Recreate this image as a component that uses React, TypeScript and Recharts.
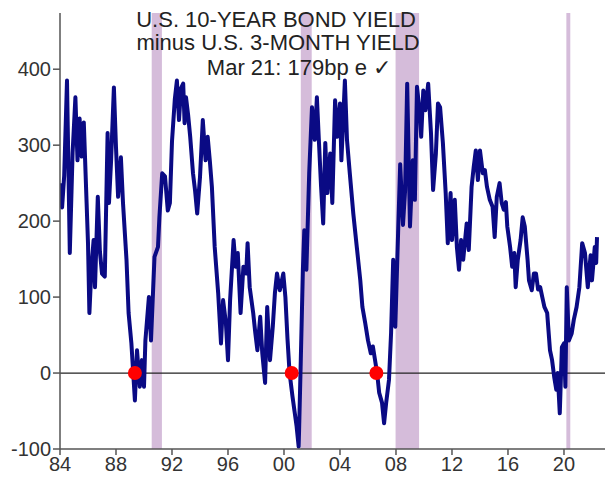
import React from 'react'
import {LineChart, Line, XAxis, YAxis, ReferenceArea, ReferenceLine, ReferenceDot} from 'recharts'

// 10y minus 3m spread, bp
const years = [
  1984.0, 1984.15, 1984.3, 1984.5, 1984.7, 1984.9, 1985.1, 1985.25, 1985.4, 1985.55, 1985.7, 1985.9,
  1986.0, 1986.1, 1986.25, 1986.4, 1986.5, 1986.7, 1986.85, 1987.0, 1987.2, 1987.4, 1987.5, 1987.65,
  1987.85, 1988.0, 1988.15, 1988.35, 1988.5, 1988.75, 1988.9, 1989.1, 1989.35, 1989.5, 1989.7, 1989.85,
  1990.0, 1990.1, 1990.35, 1990.5, 1990.75, 1991.0, 1991.1, 1991.3, 1991.5, 1991.7, 1991.85, 1992.0,
  1992.2, 1992.35, 1992.5, 1992.65, 1992.8, 1992.9, 1993.0, 1993.15, 1993.3, 1993.5, 1993.65, 1993.8,
  1994.0, 1994.2, 1994.4, 1994.55, 1994.7, 1994.85, 1995.05, 1995.3, 1995.5, 1995.65, 1995.85, 1996.0,
  1996.15, 1996.4, 1996.55, 1996.7, 1996.9, 1997.1, 1997.3, 1997.4, 1997.55, 1997.8, 1997.95, 1998.1,
  1998.3, 1998.45, 1998.65, 1998.8, 1999.0, 1999.2, 1999.35, 1999.5, 1999.7, 1999.95, 2000.1, 2000.25,
  2000.4, 2000.6, 2000.75, 2000.9, 2001.05, 2001.2, 2001.35, 2001.45, 2001.6, 2001.8, 2002.0, 2002.2,
  2002.35, 2002.5, 2002.65, 2002.8, 2002.95, 2003.1, 2003.3, 2003.45, 2003.65, 2003.8, 2004.0, 2004.1,
  2004.35, 2004.5, 2004.7, 2004.95, 2005.2, 2005.45, 2005.6, 2005.8, 2006.0, 2006.2, 2006.35, 2006.65,
  2006.8, 2007.0, 2007.15, 2007.3, 2007.5, 2007.65, 2007.8, 2007.95, 2008.15, 2008.3, 2008.5, 2008.65,
  2008.8, 2009.0, 2009.2, 2009.35, 2009.5, 2009.7, 2009.8, 2009.95, 2010.1, 2010.3, 2010.5, 2010.65,
  2010.85, 2011.0, 2011.15, 2011.35, 2011.55, 2011.7, 2011.9, 2012.0, 2012.2, 2012.35, 2012.5, 2012.65,
  2012.8, 2013.05, 2013.2, 2013.4, 2013.55, 2013.7, 2013.85, 2014.0, 2014.2, 2014.35, 2014.5, 2014.7,
  2014.9, 2015.05, 2015.2, 2015.4, 2015.55, 2015.7, 2015.85, 2015.95, 2016.15, 2016.3, 2016.45, 2016.55,
  2016.7, 2016.9, 2017.05, 2017.2, 2017.4, 2017.5, 2017.7, 2017.85, 2018.0, 2018.15, 2018.3, 2018.45,
  2018.6, 2018.8, 2019.0, 2019.15, 2019.3, 2019.45, 2019.55, 2019.7, 2019.85, 2020.0, 2020.1, 2020.2,
  2020.35, 2020.55, 2020.7, 2020.9, 2021.1, 2021.3, 2021.5, 2021.7, 2021.9, 2022.0, 2022.2, 2022.3,
  2022.36,
]
const spread = [
  250, 218, 260, 385, 158, 290, 363, 280, 335, 285, 330, 224,
  171, 79, 140, 175, 113, 232, 160, 131, 127, 316, 224, 280,
  376, 297, 232, 284, 224, 149, 79, 39, -36, 30, -18, 17,
  -18, 43, 100, 43, 153, 166, 205, 263, 259, 214, 224, 305,
  360, 385, 333, 375, 381, 329, 363, 340, 311, 263, 240, 210,
  258, 333, 280, 311, 280, 245, 166, 105, 39, 96, 66, 17,
  96, 175, 140, 158, 79, 140, 131, 171, 113, 79, 53, 30,
  74, 26, -13, 87, 17, 61, 105, 131, 109, 131, 100, 45,
  0, -30, -50, -70, -97, 17, 136, 188, 136, 263, 350, 307,
  363, 303, 245, 197, 303, 237, 289, 224, 359, 311, 355, 280,
  385, 307, 263, 210, 166, 122, 87, 66, 43, 26, 35, 0,
  -26, -39, -66, -39, -9, 53, 149, 61, 184, 275, 195, 240,
  381, 193, 280, 228, 377, 342, 311, 372, 346, 381, 316, 241,
  289, 355, 350, 303, 237, 171, 237, 175, 228, 166, 136, 175,
  149, 197, 162, 245, 271, 293, 254, 293, 263, 267, 245, 228,
  219, 179, 232, 250, 224, 215, 225, 193, 166, 140, 158, 113,
  149, 175, 205, 193, 149, 122, 109, 131, 131, 110, 113, 100,
  87, 79, 30, 17, -5, -22, 0, -53, 34, 39, -18, 113,
  43, 52, 70, 87, 113, 171, 158, 113, 155, 122, 166, 145,
  179,
]
const data = years.map((year, i) => ({year, spread: spread[i]}))

const recessions = [
  [1990.55, 1991.28],
  [2001.2, 2001.98],
  [2007.97, 2009.65],
  [2020.17, 2020.45],
]
const inversionSignals = [1989.35, 2000.55, 2006.6]

const xTicks = [1984, 1988, 1992, 1996, 2000, 2004, 2008, 2012, 2016, 2020]
const yTicks = [-100, 0, 100, 200, 300, 400]

const titleLines = ['U.S. 10-YEAR BOND YIELD', 'minus U.S. 3-MONTH YIELD', 'Mar 21: 179bp e \u2713']

const font = '"Liberation Sans", Arial, Helvetica, sans-serif'

export default function App() {
  return (
    <div style={{position: 'absolute', left: 0, top: 0, width: 605, height: 478, background: '#fff', fontFamily: font}}>
      <LineChart width={605} height={478} data={data} margin={{top: 13, right: 0, left: 0, bottom: 0}}>
        {recessions.map(([a, b]) => (
          <ReferenceArea key={a} x1={a} x2={b} fill='#d5bcda' fillOpacity={1} stroke='none' />
        ))}
        <XAxis
          dataKey='year'
          type='number'
          domain={[1984, 2022.93]}
          allowDataOverflow
          ticks={xTicks}
          tickFormatter={(v: number) => String(v % 100).padStart(2, '0')}
          tick={{fill: '#333', fontSize: 20, fontFamily: font}}
          tickSize={6}
          axisLine={{stroke: '#555', strokeWidth: 1.5}}
          tickLine={{stroke: '#555', strokeWidth: 1.5}}
          height={29}
        />
        <YAxis
          type='number'
          domain={[-100, 474]}
          allowDataOverflow
          ticks={yTicks}
          tick={{fill: '#333', fontSize: 20, fontFamily: font}}
          tickSize={7}
          width={60}
          axisLine={{stroke: '#555', strokeWidth: 1.5}}
          tickLine={{stroke: '#555', strokeWidth: 1.5}}
        />
        <ReferenceLine y={0} stroke='#222' strokeWidth={1.3} />
        <Line
          dataKey='spread'
          type='linear'
          stroke='#0a0a84'
          strokeWidth={4}
          strokeLinejoin='round'
          dot={false}
          isAnimationActive={false}
        />
        {inversionSignals.map((x) => (
          <ReferenceDot key={x} x={x} y={0} r={7} fill='#ff0000' stroke='none' />
        ))}
      </LineChart>
      <div style={{position: 'absolute', left: 0, top: 0, width: 605, fontSize: 22, color: '#222', lineHeight: 1}}>
        <div style={{position: 'absolute', top: 9, left: 76, width: 400, textAlign: 'center'}}>{titleLines[0]}</div>
        <div style={{position: 'absolute', top: 32, left: 78, width: 400, textAlign: 'center'}}>{titleLines[1]}</div>
        <div style={{position: 'absolute', top: 57, left: 99, width: 400, textAlign: 'center'}}>{titleLines[2]}</div>
      </div>
    </div>
  )
}
